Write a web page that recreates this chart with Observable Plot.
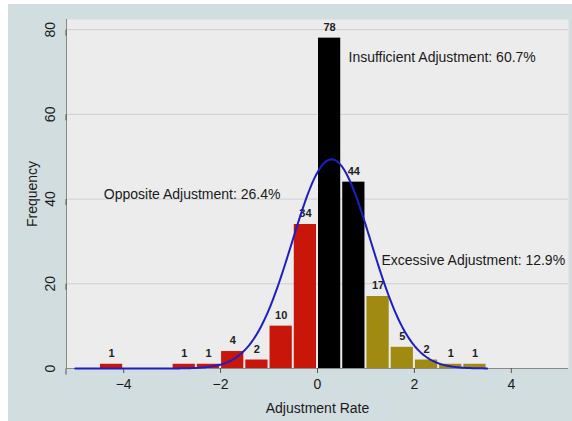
<!DOCTYPE html>
<html>
<head>
<meta charset="utf-8">
<script src="https://cdn.jsdelivr.net/npm/d3@7"></script>
<script src="https://cdn.jsdelivr.net/npm/@observablehq/plot@0.6"></script>
<style>
  html, body { margin: 0; padding: 0; background: #ffffff; }
  #chart { padding: 4px 0 0 8px; }
</style>
</head>
<body>
<div id="chart"></div>
<script>
// ---- data ----
const binStarts = [-4.5, -3, -2.5, -2, -1.5, -1, -0.5, 0, 0.5, 1, 1.5, 2, 2.5, 3];
const binWidth = 0.5;
const counts    = [1, 1, 1, 4, 2, 10, 34, 78, 44, 17, 5, 2, 1, 1];
const groupOf   = [0, 0, 0, 0, 0, 0, 0, 1, 1, 2, 2, 2, 2, 2];
const groupNames = ["Opposite Adjustment", "Insufficient Adjustment", "Excessive Adjustment"];
const groupColors = ["#c8160a", "#000000", "#a08a12"];
const annX = [-4.41, 0.64, 1.32];
const annY = [41.0, 73.4, 25.6];
const xTicks = [-4, -2, 0, 2, 4];
const yTicks = [0, 20, 40, 60, 80];
const xDomain = [-5.18, 5.18];
const yDomain = [0, 82.4];
const curveRange = [-5, 3.5];

// ---- derived tables ----
const bins = binStarts.map((s, i) => ({
  x1: s, x2: s + binWidth, count: counts[i], group: groupOf[i]
}));
const total = d3.sum(counts);
const groupTotals = groupNames.map((_, g) => d3.sum(bins.filter(b => b.group === g), b => b.count));
const annotations = groupNames.map((n, g) => ({
  x: annX[g], y: annY[g],
  text: `${n}: ${(groupTotals[g] / total * 100).toFixed(1)}%`
}));

// normal curve fitted to the binned data (mean, sd with Sheppard's grouping correction)
const mids = bins.map(b => (b.x1 + b.x2) / 2);
const mean = d3.sum(bins, (b, i) => mids[i] * b.count) / total;
const variance = d3.sum(bins, (b, i) => (mids[i] - mean) ** 2 * b.count) / total - binWidth * binWidth / 12;
const sd = Math.sqrt(variance);
const curve = d3.range(0, 301).map(k => {
  const x = curveRange[0] + (curveRange[1] - curveRange[0]) * k / 300;
  const y = total * binWidth * Math.exp(-0.5 * ((x - mean) / sd) ** 2) / (sd * Math.sqrt(2 * Math.PI));
  return {x, y};
});

const font = "'Liberation Sans', Arial, Helvetica, sans-serif";

const chart = Plot.plot({
  width: 564,
  height: 417,
  marginLeft: 58,
  marginRight: 4,
  marginTop: 15,
  marginBottom: 53,
  style: { background: "#d2dde0", fontFamily: font, fontSize: "14px", color: "#1a1a1a" },
  x: { domain: xDomain },
  y: { domain: yDomain },
  marks: [
    Plot.frame({ fill: "#ececec", stroke: "none" }),
    Plot.gridY(yTicks, { stroke: "#cfcfcf", strokeOpacity: 1, strokeWidth: 1 }),
    Plot.ruleX([xDomain[0]], { stroke: "#8a8a8a" }),
    Plot.ruleY([0], { stroke: "#8a8a8a" }),
    Plot.axisX(xTicks, { tickSize: 5, tickPadding: 6, fontSize: 14, stroke: "#555", fill: "#1a1a1a", label: null }),
    Plot.axisY(yTicks, { tickSize: 6, tickPadding: 10, fontSize: 14, rotate: -90, textAnchor: "middle", stroke: "#555", fill: "#1a1a1a", label: null }),
    Plot.text(["Frequency"], { frameAnchor: "left", dx: -34, rotate: -90, textAnchor: "middle", fontSize: 14, fill: "#1a1a1a" }),
    Plot.text(["Adjustment Rate"], { frameAnchor: "bottom", dy: 44, textAnchor: "middle", fontSize: 14, fill: "#1a1a1a" }),
    Plot.rectY(bins, {
      x1: "x1", x2: "x2", y: "count",
      fill: d => groupColors[d.group],
      insetLeft: 1, insetRight: 1
    }),
    Plot.text(bins, {
      x: d => (d.x1 + d.x2) / 2, y: "count", text: d => String(d.count),
      dy: -11, fontSize: 11, fontWeight: "bold", fill: "#222"
    }),
    Plot.line(curve, { x: "x", y: "y", stroke: "#1e1ec8", strokeWidth: 2, curve: "linear" }),
    Plot.text(annotations, {
      x: "x", y: "y", text: "text", textAnchor: "start", fontSize: 14, fill: "#1a1a1a"
    })
  ]
});
document.getElementById("chart").appendChild(chart);
</script>
</body>
</html>
